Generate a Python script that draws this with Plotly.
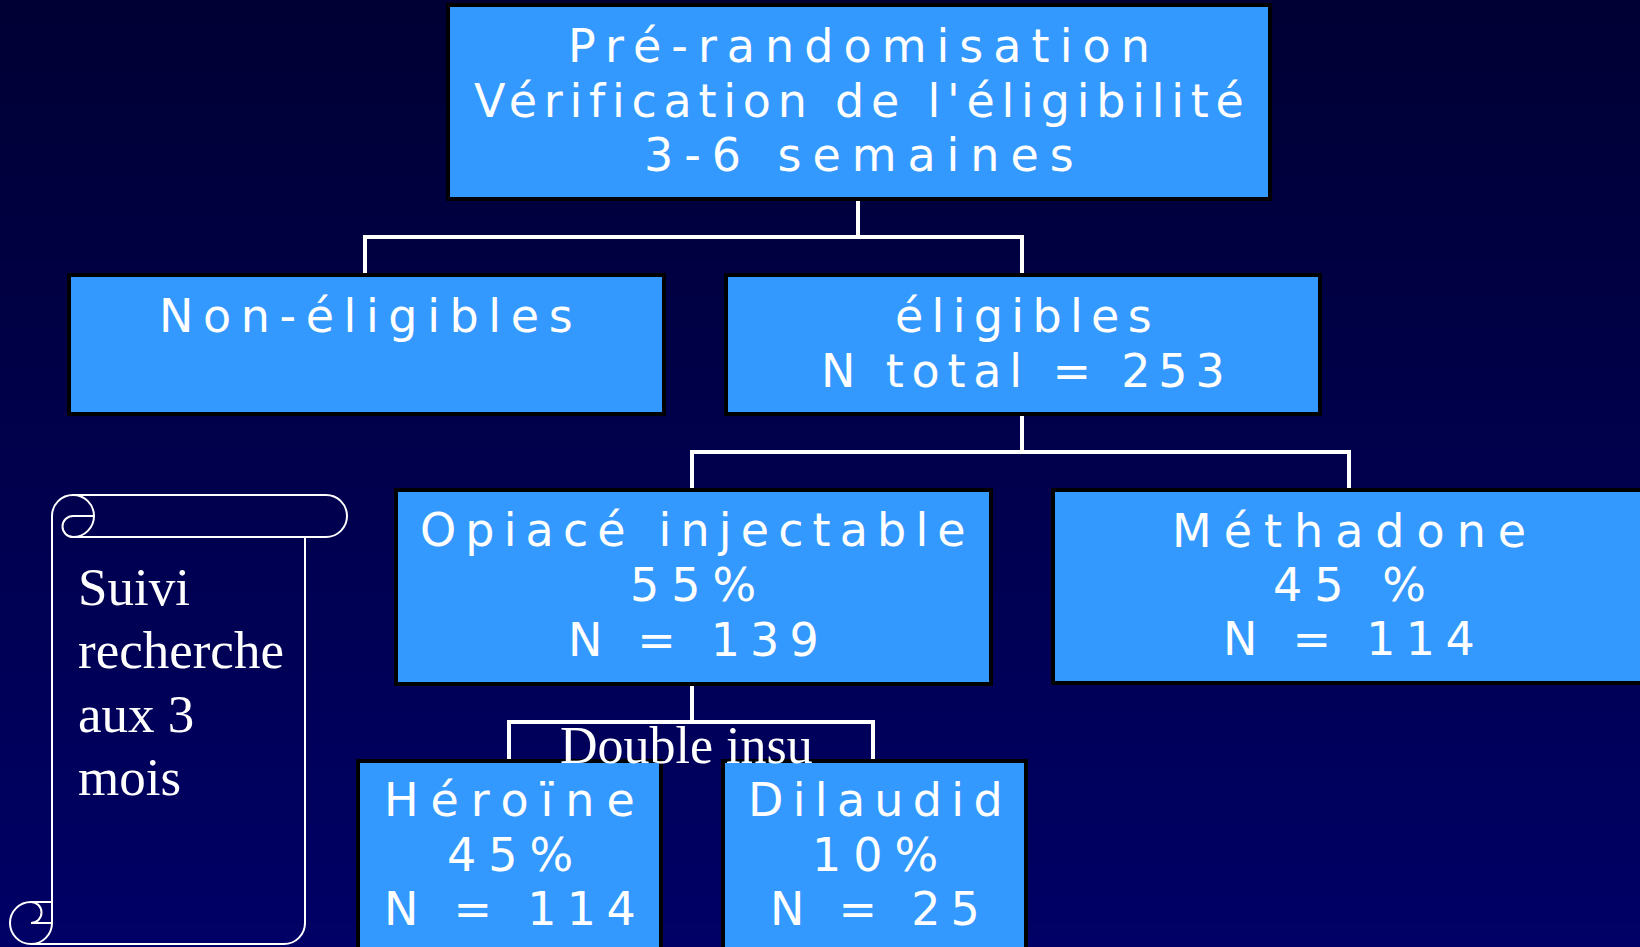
import math
import plotly.graph_objects as go

# ---------------- data ----------------
screen_lines = ["Pré-randomisation", "Vérification de l'éligibilité", "3-6 semaines"]
eligibility_groups = ["Non-éligibles", "éligibles"]
eligible_total = 253
arms = ["Opiacé injectable", "Méthadone"]
arm_pct = [55, 45]
arm_pct_sep = ["", " "]
arm_n = [139, 114]
sub_arms = ["Héroïne", "Dilaudid"]
sub_arm_pct = [45, 10]
sub_arm_n = [114, 25]
blind_label = "Double insu"
followup_lines = ["Suivi", "recherche", "aux 3", "mois"]

# ---------------- layout / style ----------------
W, H = 1640, 947
BOX_FILL = "#3399FF"
BOX_LINE = "#000000"
SANS = "DejaVu Sans, Verdana, Arial, sans-serif"
SERIF = "Liberation Serif, Times New Roman, serif"
BOX_FS = 46

# DejaVu Sans advance widths (em) used to spread the text like the stretched slide font
ADV = {" ": .318, "%": .950, "'": .275, "-": .361, "=": .838, "D": .770, "H": .752,
       "M": .863, "N": .748, "O": .787, "P": .603, "V": .684, "a": .613, "b": .635,
       "c": .550, "d": .635, "e": .615, "é": .615, "f": .352, "g": .635, "h": .634,
       "i": .278, "ï": .278, "j": .278, "l": .278, "m": .974, "n": .634, "o": .612,
       "p": .635, "r": .411, "s": .521, "t": .392, "u": .634}
DIG = .636

# target ink widths of each text line on the slide (pixels)
TEXT_W = {
    "top": [580, 770, 426],
    "nonelig": [410],
    "elig": [253, 400],
    "opi": [542, 139, 247],
    "meth": [352, 161, 248],
    "her": [248, 139, 248],
    "dil": [251, 137, 206],
}

# boxes: x0, x1, y0, y1 (pixels, y downwards)
boxes = {
    "top": (448, 1270, 5, 199),
    "nonelig": (69, 664, 275, 414),
    "elig": (726, 1320, 275, 414),
    "opi": (396, 991, 490, 684),
    "meth": (1053, 1680, 490, 683),
    "her": (358, 661, 761, 985),
    "dil": (723, 1026, 761, 985),
}

shapes = []
annotations = []

# background gradient
top_rgb = (0, 0, 52)
bot_rgb = (0, 0, 102)
nb = 80
for i in range(nb):
    t = (i + 0.5) / nb
    c = tuple(round(a + (b - a) * t) for a, b in zip(top_rgb, bot_rgb))
    shapes.append(dict(type="rect", xref="x", yref="y", x0=-5, x1=W + 5,
                       y0=H * i / nb - 0.5, y1=H * (i + 1) / nb + 0.5,
                       fillcolor="rgb(%d,%d,%d)" % c, line=dict(width=0),
                       layer="below"))

# boxes
for k, (x0, x1, y0, y1) in boxes.items():
    shapes.append(dict(type="rect", xref="x", yref="y", x0=x0, x1=x1, y0=y0, y1=y1,
                       fillcolor=BOX_FILL, line=dict(color=BOX_LINE, width=4), layer="above"))

# connectors (elbow lines)
def elbow(px, py0, ymid, child_xs, cy):
    lw = dict(color="white", width=4)
    shapes.append(dict(type="line", xref="x", yref="y", x0=px, x1=px, y0=py0, y1=ymid, line=lw))
    shapes.append(dict(type="line", xref="x", yref="y", x0=min(child_xs) - 2, x1=max(child_xs) + 2,
                       y0=ymid, y1=ymid, line=lw))
    for cx in child_xs:
        shapes.append(dict(type="line", xref="x", yref="y", x0=cx, x1=cx, y0=ymid, y1=cy, line=lw))

elbow(858, 201, 237, [365, 1022], 273)
elbow(1022, 416, 452, [692, 1349], 488)
elbow(692, 686, 722, [509, 873], 759)

# scroll (vertical scroll outline) with bezier quarter arcs
def arc(cx, cy, r, a0, a1):
    cmds = []
    n = max(1, int(round(abs(a1 - a0) / 90)))
    step = (a1 - a0) / n
    for j in range(n):
        s = math.radians(a0 + j * step)
        e = math.radians(a0 + (j + 1) * step)
        th = e - s
        k = 4.0 / 3.0 * math.tan(th / 4.0) * r
        p0 = (cx + r * math.cos(s), cy + r * math.sin(s))
        p3 = (cx + r * math.cos(e), cy + r * math.sin(e))
        c1 = (p0[0] - k * math.sin(s), p0[1] + k * math.cos(s))
        c2 = (p3[0] + k * math.sin(e), p3[1] - k * math.cos(e))
        cmds.append("C %.2f %.2f %.2f %.2f %.2f %.2f" % (c1 + c2 + p3))
    return " ".join(cmds)

def P(x, y):
    return "%.2f %.2f" % (x, y)

sl, st, sr, sb = 10, 495, 347, 944
ch, ch2, ch4 = 42, 21, 10.5
segs = []
segs.append("M " + P(sl + ch, st + ch2) + " " + arc(sl + ch + ch2, st + ch2, ch2, 180, 270)
            + " L " + P(sr - ch2, st) + " " + arc(sr - ch2, st + ch2, ch2, 270, 450)
            + " L " + P(sl + ch + ch2, st + ch) + " " + arc(sl + ch + ch2, st + ch2, ch2, 90, -90))
segs.append("M " + P(sl + 2 * ch, st + ch2) + " L " + P(sl + ch + ch2, st + ch2) + " "
            + arc(sl + ch + ch2, st + ch2 + ch4, ch4, 270, 90))
segs.append("M " + P(sl + ch, st + ch2) + " L " + P(sl + ch, sb - ch2))
segs.append("M " + P(sr - ch, st + ch) + " L " + P(sr - ch, sb - ch2) + " "
            + arc(sr - ch - ch2, sb - ch2, ch2, 0, 90) + " L " + P(sl + ch2, sb))
segs.append("M " + P(sl + ch2, sb) + " " + arc(sl + ch2, sb - ch2, ch2, 90, 270)
            + " L " + P(sl + ch, sb - ch))
segs.append("M " + P(sl + ch2, sb) + " " + arc(sl + ch2, sb - ch2, ch2, 90, 0))
segs.append("M " + P(sl + ch2, sb - ch) + " " + arc(sl + ch2, sb - ch2 - ch4, ch4, -90, 90)
            + " L " + P(sl + ch, sb - ch2))
shapes.append(dict(type="path", xref="x", yref="y", path=" ".join(segs),
                   line=dict(color="white", width=2), layer="above"))

# ---------------- texts ----------------
def em_width(s):
    return sum(DIG if c.isdigit() else ADV.get(c, .6) for c in s)

def spacing(s, target, size):
    n = len(s)
    if n < 2:
        return 0
    ls = (target + 0.08 * size - em_width(s) * size) / (n - 1)
    return max(1.0, min(ls, 12.0))

def add_lines(cx, baselines, lines, widths, size=BOX_FS):
    for b, s, w in zip(baselines, lines, widths):
        ls = spacing(s, w, size)
        annotations.append(dict(x=cx + ls / 2, y=b - 0.346 * size, xref="x", yref="y",
                                text='<span style="letter-spacing:%.2fpx">%s</span>' % (ls, s),
                                showarrow=False, xanchor="center", yanchor="middle",
                                font=dict(family=SANS, size=size, color="white")))

add_lines(859, [62, 117, 171], screen_lines, TEXT_W["top"])
add_lines(366, [332], [eligibility_groups[0]], TEXT_W["nonelig"])
add_lines(1023, [332, 387], [eligibility_groups[1], "N total = %d" % eligible_total], TEXT_W["elig"])
arm_cx = [693, 1349]
arm_base = [[546, 601, 656], [547, 601, 655]]
arm_keys = ["opi", "meth"]
for i in range(2):
    add_lines(arm_cx[i], arm_base[i],
              [arms[i], "%d%s%%" % (arm_pct[i], arm_pct_sep[i]), "N = %d" % arm_n[i]],
              TEXT_W[arm_keys[i]])
sub_cx = [510, 875]
sub_keys = ["her", "dil"]
for i in range(2):
    add_lines(sub_cx[i], [816, 871, 925],
              [sub_arms[i], "%d%%" % sub_arm_pct[i], "N = %d" % sub_arm_n[i]],
              TEXT_W[sub_keys[i]])

# "Double insu"
annotations.append(dict(x=686, y=763 - 0.3375 * 52, xref="x", yref="y", text=blind_label,
                        showarrow=False, xanchor="center", yanchor="middle",
                        font=dict(family=SERIF, size=52, color="white")))

# scroll text
for b, s in zip([605, 668, 732, 795], followup_lines):
    annotations.append(dict(x=76, y=b - 0.3375 * 53, xref="x", yref="y", text=s,
                            showarrow=False, xanchor="left", yanchor="middle",
                            font=dict(family=SERIF, size=53, color="white")))

fig = go.Figure()
fig.update_layout(
    width=W, height=H, margin=dict(l=0, r=0, t=0, b=0, pad=0),
    paper_bgcolor="rgb(0,0,80)", plot_bgcolor="rgba(0,0,0,0)",
    xaxis=dict(range=[0, W], visible=False, fixedrange=True),
    yaxis=dict(range=[H, 0], visible=False, fixedrange=True),
    shapes=shapes, annotations=annotations, showlegend=False,
)
fig.write_html("out.html", include_plotlyjs=True, full_html=True,
               config={"displayModeBar": False, "staticPlot": True},
               post_script="document.body.style.margin='0';document.body.style.overflow='hidden';")
